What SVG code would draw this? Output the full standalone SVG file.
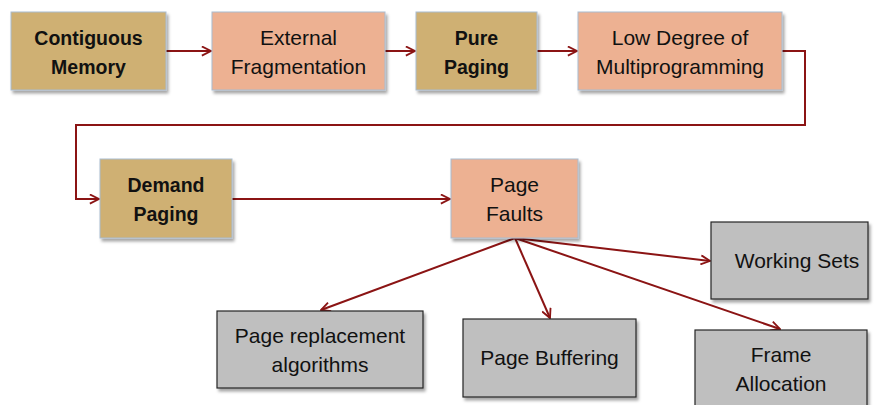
<svg xmlns="http://www.w3.org/2000/svg" width="875" height="405" viewBox="0 0 875 405">
  <style>
    .tan { fill: #CFB073; stroke: #A9BCD0; stroke-width: 1; }
    .salmon { fill: #EDB192; stroke: #A9BCD0; stroke-width: 1; }
    .gray { fill: #BFBFBF; stroke: #262626; stroke-width: 1.2; }
    .lbl { font-family: "Liberation Sans", Arial, sans-serif; font-size: 21px; fill: #111; text-anchor: middle; }
    .bold { font-weight: bold; font-size: 19.5px; }
    .conn { fill: none; stroke: #8B1414; stroke-width: 2; }
  </style>
  <defs>
    <filter id="shadow" x="-10%" y="-10%" width="125%" height="130%">
      <feDropShadow dx="2" dy="3" stdDeviation="1.5" flood-color="#000" flood-opacity="0.35"/>
    </filter>
    <marker id="arrow" viewBox="0 0 12 12" refX="11" refY="6" markerWidth="11" markerHeight="11" markerUnits="userSpaceOnUse" orient="auto">
      <polyline points="1,1 11,6 1,11" fill="none" stroke="#8B1414" stroke-width="2"/>
    </marker>
  </defs>

  <g id="connectors">
    <line class="conn" x1="166" y1="51" x2="211" y2="51" marker-end="url(#arrow)"/>
    <line class="conn" x1="385" y1="51" x2="415" y2="51" marker-end="url(#arrow)"/>
    <line class="conn" x1="537" y1="51" x2="577" y2="51" marker-end="url(#arrow)"/>
    <polyline class="conn" points="782,51 805,51 805,125 76,125 76,199 99,199" marker-end="url(#arrow)"/>
    <line class="conn" x1="232" y1="199" x2="450" y2="199" marker-end="url(#arrow)"/>
    <line class="conn" x1="515" y1="238" x2="321" y2="310" marker-end="url(#arrow)"/>
    <line class="conn" x1="515" y1="238" x2="550" y2="318" marker-end="url(#arrow)"/>
    <line class="conn" x1="515" y1="238" x2="710" y2="261" marker-end="url(#arrow)"/>
    <line class="conn" x1="515" y1="238" x2="780" y2="329" marker-end="url(#arrow)"/>
  </g>

  <g id="contiguous-memory">
    <rect class="tan" x="11" y="12" width="155" height="78" filter="url(#shadow)"/>
    <text class="lbl bold" x="88.5" y="45">Contiguous</text>
    <text class="lbl bold" x="88.5" y="74">Memory</text>
  </g>

  <g id="external-fragmentation">
    <rect class="salmon" x="212" y="12" width="173" height="78" filter="url(#shadow)"/>
    <text class="lbl" x="298.5" y="45">External</text>
    <text class="lbl" x="298.5" y="74">Fragmentation</text>
  </g>

  <g id="pure-paging">
    <rect class="tan" x="416" y="12" width="121" height="78" filter="url(#shadow)"/>
    <text class="lbl bold" x="476.5" y="45">Pure</text>
    <text class="lbl bold" x="476.5" y="74">Paging</text>
  </g>

  <g id="low-degree">
    <rect class="salmon" x="578" y="12" width="204" height="78" filter="url(#shadow)"/>
    <text class="lbl" x="680" y="45">Low Degree of</text>
    <text class="lbl" x="680" y="74">Multiprogramming</text>
  </g>

  <g id="demand-paging">
    <rect class="tan" x="100" y="159" width="132" height="79" filter="url(#shadow)"/>
    <text class="lbl bold" x="166" y="192">Demand</text>
    <text class="lbl bold" x="166" y="221">Paging</text>
  </g>

  <g id="page-faults">
    <rect class="salmon" x="451" y="159" width="127" height="79" filter="url(#shadow)"/>
    <text class="lbl" x="514.5" y="192">Page</text>
    <text class="lbl" x="514.5" y="221">Faults</text>
  </g>

  <g id="page-replacement">
    <rect class="gray" x="217" y="311" width="206" height="77" filter="url(#shadow)"/>
    <text class="lbl" x="320" y="343">Page replacement</text>
    <text class="lbl" x="320" y="372">algorithms</text>
  </g>

  <g id="page-buffering">
    <rect class="gray" x="463" y="319" width="173" height="78" filter="url(#shadow)"/>
    <text class="lbl" x="549.5" y="365">Page Buffering</text>
  </g>

  <g id="working-sets">
    <rect class="gray" x="711" y="222" width="157" height="77" filter="url(#shadow)"/>
    <text class="lbl" x="797" y="268">Working Sets</text>
  </g>

  <g id="frame-allocation">
    <rect class="gray" x="695" y="330" width="172" height="80" filter="url(#shadow)"/>
    <text class="lbl" x="781" y="362">Frame</text>
    <text class="lbl" x="781" y="391">Allocation</text>
  </g>
</svg>
